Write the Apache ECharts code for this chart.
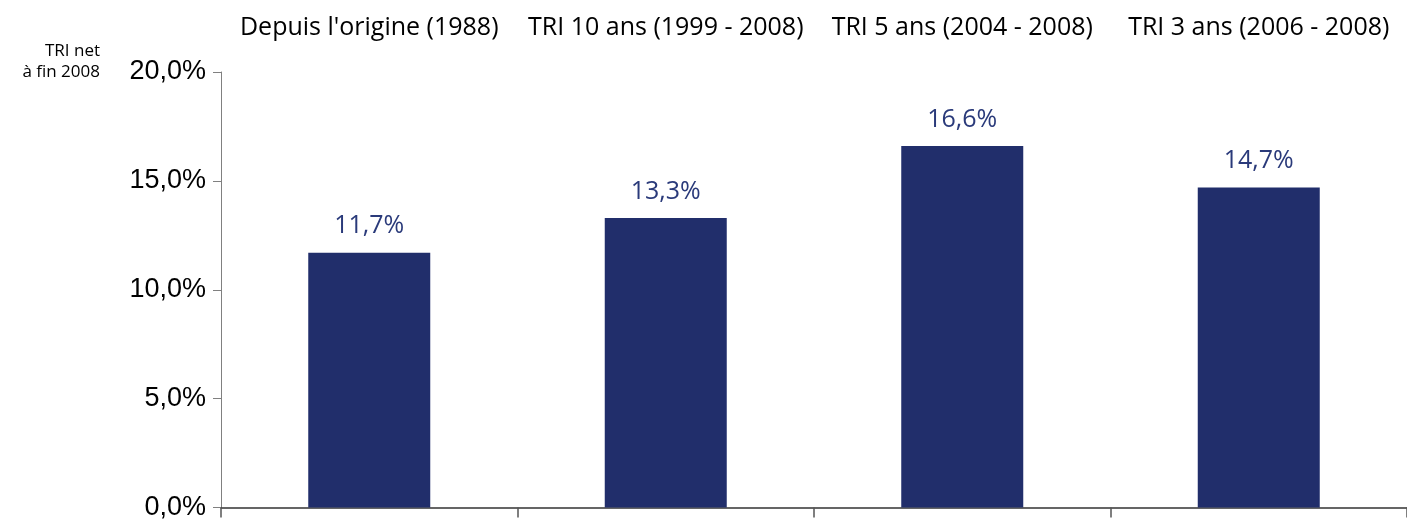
<!DOCTYPE html>
<html>

<head>
    <meta charset="UTF-8" />
    <title>TRI net à fin 2008</title>
    <script src="https://cdn.jsdelivr.net/npm/echarts@6/dist/echarts.min.js"></script>
    <style>
        html, body { margin: 0; padding: 0; background: #fff; }
    </style>
</head>

<body>
    <div id="chart" style="width: 1407px; height: 521px;"></div>

    <script type="text/javascript">
        // données
        var categories = ['Depuis l\'origine (1988)', 'TRI 10 ans (1999 - 2008)', 'TRI 5 ans (2004 - 2008)', 'TRI 3 ans (2006 - 2008)'];
        var triValues = [11.7, 13.3, 16.6, 14.7];
        var yTicks = [0, 5, 10, 15, 20];

        var navy = '#212E6B';
        var pct = function (v) {
            return Number(v).toFixed(1).replace('.', ',') + '%';
        };

        var chart = echarts.init(document.getElementById('chart'));
        var option = {
            animation: false,
            backgroundColor: '#fff',
            graphic: [
                {
                    type: 'text',
                    x: 100,
                    y: 41,
                    style: {
                        text: 'TRI net\nà fin 2008',
                        align: 'right',
                        verticalAlign: 'top',
                        font: '17px "Open Sans"',
                        lineHeight: 21,
                        fill: '#000'
                    }
                }
            ],
            grid: {
                left: 221,
                top: 72,
                width: 1197,
                height: 438,
                containLabel: false
            },
            xAxis: [
                {
                    type: 'category',
                    data: categories,
                    position: 'bottom',
                    boundaryGap: true,
                    axisLine: { lineStyle: { color: '#333', width: 1.5 } },
                    axisTick: { show: true, length: 10, inside: false, lineStyle: { color: '#555', width: 1.5 } },
                    axisLabel: { show: false },
                    splitLine: { show: false }
                },
                {
                    type: 'category',
                    data: categories,
                    position: 'top',
                    axisLine: { show: false },
                    axisTick: { show: false },
                    axisLabel: {
                        show: true,
                        interval: 0,
                        margin: 32,
                        color: '#000',
                        fontFamily: 'Open Sans',
                        fontSize: 25
                    }
                }
            ],
            yAxis: {
                type: 'value',
                min: yTicks[0],
                max: yTicks[yTicks.length - 1],
                interval: 5,
                axisLine: { show: true, lineStyle: { color: '#808080', width: 1 } },
                axisTick: { show: true, length: 8, inside: false, lineStyle: { color: '#808080' } },
                splitLine: { show: false },
                axisLabel: {
                    margin: 15,
                    color: '#000',
                    fontFamily: 'Liberation Sans',
                    fontSize: 27,
                    formatter: pct
                }
            },
            series: [
                {
                    type: 'bar',
                    data: triValues,
                    barWidth: 122,
                    itemStyle: { color: navy },
                    label: {
                        show: true,
                        position: 'top',
                        distance: 14,
                        color: '#2A3A7A',
                        fontFamily: 'Open Sans',
                        fontSize: 25,
                        formatter: function (p) { return pct(p.value); }
                    }
                }
            ]
        };
        chart.setOption(option);
    </script>
</body>

</html>
